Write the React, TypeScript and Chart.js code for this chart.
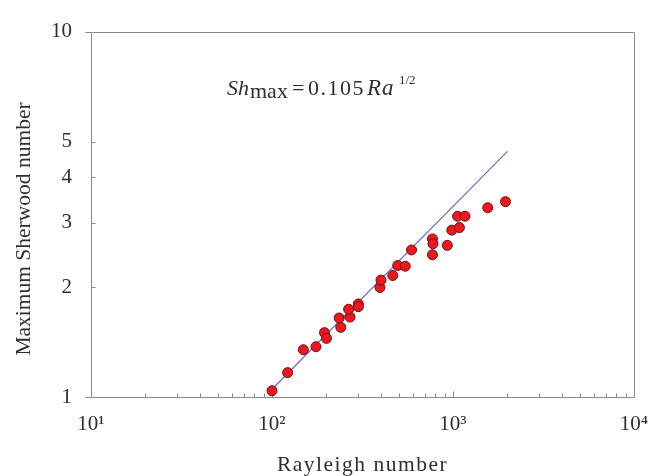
import { useEffect, useRef } from 'react';
import { Chart, registerables } from 'chart.js';

Chart.register(...registerables);

// Data
const rayleigh = [100, 122, 149, 175, 195, 200, 240, 235, 270, 265, 300, 300, 395, 400, 465, 495, 545, 590, 770, 775, 770, 930, 985, 1085, 1060, 1165, 1555, 1950];
const sherwood = [1.04, 1.166, 1.347, 1.373, 1.5, 1.447, 1.551, 1.645, 1.655, 1.739, 1.797, 1.767, 1.994, 2.089, 2.15, 2.29, 2.28, 2.526, 2.708, 2.627, 2.449, 2.6, 2.862, 2.908, 3.124, 3.124, 3.295, 3.424];

// Fit line Sh_max = 0.105 Ra^(1/2), end points
const fitRayleigh = [100, 2000];
const fitSherwood = [1.05, 4.7];

const xTickValues = [10, 100, 1000, 10000];
const xTickLabels = ['10¹', '10²', '10³', '10⁴'];
const xMinorMultipliers = [2, 3, 4, 5, 6, 7, 8, 9];
const yTickValues = [1, 2, 3, 4, 5, 10];
const yTickLabels = ['1', '2', '3', '4', '5', '10'];

const xTitle = 'Rayleigh number';
const yTitle = 'Maximum Sherwood number';

const SERIF = '"Liberation Serif", "Times New Roman", Times, serif';
const TEXT = '#2e2e2e';
const AXIS = '#8a8a8a';

const framePlugin = {
  id: 'frame',
  beforeDraw(chart: any) {
    chart.ctx.letterSpacing = '0px';
  },
  beforeDatasetsDraw(chart: any) {
    const { ctx, chartArea: a, scales } = chart;
    const x = scales.x;
    const y = scales.y;
    const xL = Math.round(a.left) + 0.5;
    const xR = Math.round(a.right) + 0.5;
    const yT = Math.round(a.top) + 0.5;
    const yB = Math.round(a.bottom) + 0.5;
    ctx.save();
    ctx.strokeStyle = AXIS;
    ctx.lineWidth = 1;
    ctx.beginPath();
    ctx.rect(xL, yT, xR - xL, yB - yT);
    // x ticks (inward)
    xTickValues.forEach((dec, i) => {
      if (i === xTickValues.length - 1) return;
      [1, ...xMinorMultipliers].forEach((m) => {
        const v = dec * m;
        if (m === 1 && i === 0) return;
        const px = Math.round(x.getPixelForValue(v)) + 0.5;
        const len = m === 1 ? 6 : 4;
        ctx.moveTo(px, yB);
        ctx.lineTo(px, yB - len);
      });
    });
    // y ticks
    yTickValues.forEach((v, i) => {
      const py = Math.round(y.getPixelForValue(v)) + 0.5;
      if (i === 0 || i === yTickValues.length - 1) {
        ctx.moveTo(xL - 6, py);
        ctx.lineTo(xL, py);
      } else {
        ctx.moveTo(xL, py);
        ctx.lineTo(xL + 4, py);
      }
    });
    ctx.stroke();
    ctx.restore();
  },
  afterDatasetsDraw(chart: any) {
    // x-axis title is drawn after datasets (grid layer z = 1): give it the wider spacing
    chart.ctx.letterSpacing = '1.5px';
  },
  afterDraw(chart: any) {
    const { ctx } = chart;
    ctx.save();
    ctx.letterSpacing = '0px';
    ctx.fillStyle = TEXT;
    // y-axis title
    ctx.save();
    ctx.translate(24, 229);
    ctx.rotate(-Math.PI / 2);
    ctx.font = `21.5px ${SERIF}`;
    ctx.textAlign = 'center';
    ctx.textBaseline = 'middle';
    ctx.fillText(yTitle, 0, 0);
    ctx.restore();

    // formula annotation
    ctx.textAlign = 'left';
    ctx.textBaseline = 'alphabetic';
    const pieces: [string, string, number, number, string][] = [
      ['Sh', `italic 22px ${SERIF}`, 227, 95, '0px'],
      ['max', `22px ${SERIF}`, 250, 98, '0px'],
      ['=', `22px ${SERIF}`, 292, 95, '0px'],
      ['0.105', `22px ${SERIF}`, 308, 95, '1.5px'],
      ['Ra', `italic 23px ${SERIF}`, 367, 95, '1px'],
      ['1/2', `13px ${SERIF}`, 399, 84, '0px'],
    ];
    pieces.forEach(([t, f, px, py, ls]) => {
      ctx.font = f;
      ctx.letterSpacing = ls;
      ctx.fillText(t, px, py);
    });
    ctx.restore();
  },
};

export default function App() {
  const ref = useRef<HTMLCanvasElement | null>(null);

  useEffect(() => {
    document.body.style.margin = '0';
    const canvas = ref.current;
    if (!canvas) return;
    const chart = new Chart(canvas, {
      type: 'scatter',
      data: {
        datasets: [
          {
            label: 'data',
            data: rayleigh.map((r, i) => ({ x: r, y: sherwood[i] })),
            pointRadius: 5,
            pointBorderWidth: 1,
            pointBackgroundColor: 'rgb(236, 24, 30)',
            pointBorderColor: 'rgb(100, 20, 20)',
            order: 1,
          },
          {
            label: 'fit',
            data: fitRayleigh.map((r, i) => ({ x: r, y: fitSherwood[i] })),
            showLine: true,
            pointRadius: 0,
            borderWidth: 1.2,
            borderColor: 'rgb(105, 105, 205)',
            order: 2,
          } as any,
        ],
      },
      options: {
        animation: false,
        responsive: false,
        devicePixelRatio: 1,
        clip: false as any,
        layout: { padding: { left: 0, top: 21, right: 15, bottom: 0 } },
        plugins: {
          legend: { display: false },
          tooltip: { enabled: false },
        },
        scales: {
          x: {
            type: 'logarithmic',
            position: 'bottom',
            min: 10,
            max: 10000,
            afterBuildTicks: (s: any) => {
              s.ticks = xTickValues.map((v) => ({ value: v }));
            },
            afterFit: (s: any) => {
              s.height = 79;
              s.paddingLeft = 0;
              s.paddingRight = 0;
            },
            grid: { display: false, drawTicks: false, z: 1 },
            border: { display: false },
            ticks: {
              autoSkip: false,
              maxRotation: 0,
              padding: 15,
              color: TEXT,
              font: { family: SERIF, size: 21 },
              callback: (_v: any, i: number) => xTickLabels[i],
            },
            title: {
              display: true,
              text: xTitle,
              color: TEXT,
              font: { family: SERIF, size: 21.5 },
              padding: { top: 0, bottom: -2 },
            },
          },
          y: {
            type: 'logarithmic',
            position: 'left',
            min: 1,
            max: 10,
            afterBuildTicks: (s: any) => {
              s.ticks = yTickValues.map((v) => ({ value: v }));
            },
            afterFit: (s: any) => {
              s.width = 91;
            },
            grid: { display: false, drawTicks: false },
            border: { display: false },
            ticks: {
              autoSkip: false,
              padding: 19,
              color: TEXT,
              font: { family: SERIF, size: 21 },
              callback: (_v: any, i: number) => yTickLabels[i],
            },
          },
        },
      },
      plugins: [framePlugin],
    });
    return () => chart.destroy();
  }, []);

  return (
    <div style={{ width: 649, height: 476 }}>
      <canvas ref={ref} width={649} height={476} style={{ display: 'block' }} />
    </div>
  );
}
